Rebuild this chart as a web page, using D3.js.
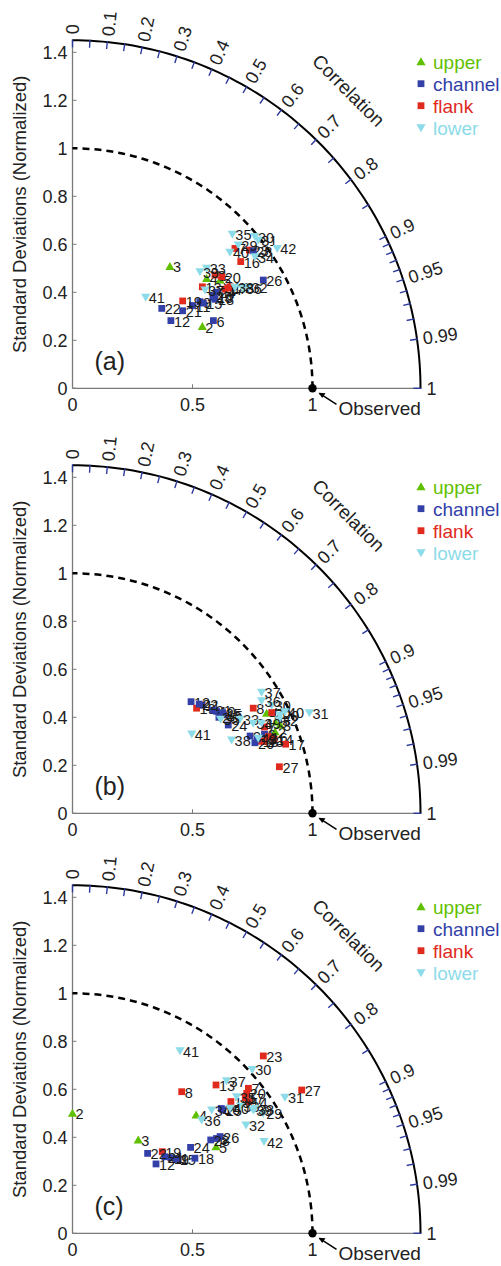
<!DOCTYPE html>
<html>
<head>
<meta charset="utf-8">
<script src="https://cdn.jsdelivr.net/npm/d3@7"></script>
<style>
  body { margin: 0; background: #fff; }
  svg { display: block; font-family: "Liberation Sans", Arial, sans-serif; }
</style>
</head>
<body>
<div id="chart"></div>
<script>
// station ids and their group
const ids = d3.range(2, 43)
const groups = [
  'upper', 'upper', 'upper', 'upper',            // 2-5
  'channel', 'flank', 'flank', 'channel',        // 6-9
  'channel', 'channel', 'channel', 'flank',      // 10-13
  'flank', 'channel', 'flank', 'flank',          // 14-17
  'channel', 'flank', 'flank', 'channel',        // 18-21
  'channel', 'flank', 'channel', 'channel',      // 22-25
  'channel', 'flank', 'channel',                 // 26-28
  'lower', 'lower', 'lower', 'lower', 'lower', 'lower', 'lower', // 29-35
  'lower', 'lower', 'lower', 'lower', 'lower', 'lower', 'lower'  // 36-42
]

const legendNames = ['upper', 'channel', 'flank', 'lower']
const legendColors = ['#5fc000', '#3240a8', '#e02a1e', '#8cdbe8']

// normalized std * cos / std * sin, one value per id (2..42)
const aX = [0.541, 0.406, 0.559, 0.615, 0.587, 0.677, 0.594, 0.531, 0.590, 0.500,
  0.410, 0.541, 0.656, 0.545, 0.701, 0.635, 0.594, 0.459, 0.622, 0.459,
  0.372, 0.737, 0.600, 0.585, 0.795, 0.648, 0.753, 0.691, 0.760, 0.774,
  0.733, 0.559, 0.760, 0.666, 0.709, 0.552, 0.677, 0.531, 0.656, 0.305, 0.853]
const aY = [0.257, 0.508, 0.458, 0.451, 0.282, 0.583, 0.472, 0.361, 0.380, 0.345,
  0.282, 0.423, 0.423, 0.355, 0.528, 0.413, 0.371, 0.364, 0.465, 0.323,
  0.333, 0.576, 0.400, 0.385, 0.451, 0.418, 0.573, 0.597, 0.632, 0.618,
  0.421, 0.500, 0.548, 0.642, 0.417, 0.410, 0.421, 0.486, 0.567, 0.379, 0.583]

const bX = [0.844, 0.865, 0.809, 0.850, 0.800, 0.800, 0.753, 0.740, 0.600, 0.540,
  0.494, 0.780, 0.840, 0.630, 0.816, 0.888, 0.770, 0.517, 0.830, 0.584,
  0.528, 0.800, 0.649, 0.626, 0.760, 0.862, 0.610, 0.865, 0.830, 0.987,
  0.860, 0.698, 0.753, 0.617, 0.788, 0.788, 0.663, 0.788, 0.885, 0.497, 0.774]
const bY = [0.340, 0.368, 0.417, 0.380, 0.330, 0.360, 0.438, 0.322, 0.425, 0.450,
  0.465, 0.300, 0.310, 0.410, 0.319, 0.288, 0.310, 0.438, 0.420, 0.430,
  0.455, 0.300, 0.368, 0.419, 0.294, 0.194, 0.400, 0.410, 0.450, 0.419,
  0.390, 0.392, 0.375, 0.392, 0.469, 0.504, 0.305, 0.375, 0.423, 0.330, 0.313]

const cX = [0.000, 0.274, 0.515, 0.598, 0.600, 0.733, 0.455, 0.440, 0.620, 0.410,
  0.348, 0.598, 0.733, 0.434, 0.660, 0.720, 0.510, 0.374, 0.726, 0.385,
  0.313, 0.795, 0.492, 0.626, 0.615, 0.955, 0.576, 0.795, 0.749, 0.885,
  0.723, 0.700, 0.580, 0.684, 0.538, 0.642, 0.760, 0.753, 0.656, 0.448, 0.798]
const cY = [0.500, 0.389, 0.493, 0.361, 0.395, 0.604, 0.590, 0.310, 0.520, 0.315,
  0.289, 0.618, 0.549, 0.308, 0.549, 0.565, 0.313, 0.340, 0.583, 0.319,
  0.333, 0.739, 0.358, 0.514, 0.403, 0.597, 0.389, 0.500, 0.683, 0.567,
  0.451, 0.530, 0.514, 0.569, 0.472, 0.636, 0.520, 0.514, 0.521, 0.761, 0.382]

const stdTicks = [0, 0.2, 0.4, 0.6, 0.8, 1, 1.2, 1.4]
const xTicks = [0, 0.5, 1]
const corrLabels = [0, 0.1, 0.2, 0.3, 0.4, 0.5, 0.6, 0.7, 0.8, 0.9, 0.95, 0.99, 1]
const corrTicks = d3.range(0, 0.901, 0.05).concat(d3.range(0.91, 0.995, 0.01)).concat([1])

const panels = [
  { letter: '(a)', oy: 388.3, xs: aX, ys: aY },
  { letter: '(b)', oy: 813.3, xs: bX, ys: bY },
  { letter: '(c)', oy: 1233.3, xs: cX, ys: cY }
]

const width = 501
const height = 1266
const ox = 72.5
const rMax = 1.45

const color = d3.scaleOrdinal().domain(legendNames).range(legendColors)

const svg = d3.select('#chart').append('svg')
  .attr('width', width)
  .attr('height', height)

panels.forEach(p => drawPanel(p))

function drawPanel(p) {
  let x = d3.scaleLinear().domain([0, rMax]).range([ox, ox + 348])
  let y = d3.scaleLinear().domain([0, rMax]).range([p.oy, p.oy - 348])
  let r = d3.scaleLinear().domain([0, rMax]).range([0, 348])
  let g = svg.append('g')

  // axes
  g.append('line')
    .attr('x1', x(0)).attr('y1', y(0)).attr('x2', x(rMax)).attr('y2', y(0))
    .attr('stroke', '#7a7a7a').attr('stroke-width', 1.3)
  g.append('line')
    .attr('x1', x(0)).attr('y1', y(0)).attr('x2', x(0)).attr('y2', y(rMax))
    .attr('stroke', '#7a7a7a').attr('stroke-width', 1.3)

  g.selectAll('.ytick').data(stdTicks).enter().append('line')
    .attr('x1', x(0)).attr('x2', x(0) + 4)
    .attr('y1', d => y(d)).attr('y2', d => y(d))
    .attr('stroke', '#7a7a7a')
  g.selectAll('.xtick').data(xTicks).enter().append('line')
    .attr('x1', d => x(d)).attr('x2', d => x(d))
    .attr('y1', y(0)).attr('y2', y(0) - 4)
    .attr('stroke', '#7a7a7a')

  g.selectAll('.ylab').data(stdTicks).enter().append('text')
    .attr('x', x(0) - 5)
    .attr('y', d => y(d))
    .attr('dy', '0.35em')
    .attr('text-anchor', 'end')
    .attr('font-size', 18)
    .attr('fill', '#222')
    .text(d => d3.format('')(d))

  g.selectAll('.xlab').data(xTicks).enter().append('text')
    .attr('x', d => x(d))
    .attr('y', y(0) + 23)
    .attr('text-anchor', 'middle')
    .attr('font-size', 18)
    .attr('fill', '#222')
    .text(d => d3.format('')(d))

  g.append('text')
    .attr('transform', `translate(${ox - 53},${y(rMax / 2)}) rotate(-90)`)
    .attr('text-anchor', 'middle')
    .attr('dy', '0.35em')
    .attr('font-size', 18.5)
    .attr('fill', '#222')
    .text('Standard Deviations (Normalized)')

  // outer arc and reference arc
  let arcLine = d3.line()
    .x(d => x(d[0] * Math.cos(d[1])))
    .y(d => y(d[0] * Math.sin(d[1])))
  let angles = d3.range(0, 91).map(d => d * Math.PI / 180)

  g.append('path')
    .attr('d', arcLine(angles.map(a => [rMax, a])))
    .attr('fill', 'none')
    .attr('stroke', '#000')
    .attr('stroke-width', 2)

  g.append('path')
    .attr('d', arcLine(angles.map(a => [1, a])))
    .attr('fill', 'none')
    .attr('stroke', '#000')
    .attr('stroke-width', 2.5)
    .attr('stroke-dasharray', '7,5')

  // correlation ticks
  g.selectAll('.ctick').data(corrTicks).enter().append('line')
    .attr('x1', d => x(rMax * d) - 7 * d)
    .attr('y1', d => y(rMax * Math.sqrt(1 - d * d)) + 7 * Math.sqrt(1 - d * d))
    .attr('x2', d => x(rMax * d) + 1 * d)
    .attr('y2', d => y(rMax * Math.sqrt(1 - d * d)) - 1 * Math.sqrt(1 - d * d))
    .attr('stroke', '#2c3a9c')
    .attr('stroke-width', 1.4)

  g.selectAll('.clab').data(corrLabels).enter().append('text')
    .attr('transform', d => {
      let a = Math.acos(d)
      let px = ox + (r(rMax) + 6) * Math.cos(a)
      let py = p.oy - (r(rMax) + 6) * Math.sin(a)
      return `translate(${px},${py}) rotate(${-a * 180 / Math.PI})`
    })
    .attr('dy', '0.35em')
    .attr('font-size', 18)
    .attr('fill', '#222')
    .text(d => d3.format('')(d))

  g.append('text')
    .attr('transform', `translate(${ox + 276},${p.oy - 298}) rotate(45)`)
    .attr('text-anchor', 'middle')
    .attr('dy', '0.35em')
    .attr('font-size', 19)
    .attr('fill', '#222')
    .text('Correlation')

  // observed reference
  g.append('circle')
    .attr('cx', x(1)).attr('cy', y(0)).attr('r', 4.2)
    .attr('fill', '#000')
  g.append('line')
    .attr('x1', x(1) + 24).attr('y1', y(0) + 16)
    .attr('x2', x(1) + 7).attr('y2', y(0) + 5)
    .attr('stroke', '#000').attr('stroke-width', 1.5)
  g.append('path')
    .attr('d', `M${x(1) + 6},${y(0) + 4.5} l7,0.5 l-3.3,4.6 z`)
    .attr('fill', '#000')
  g.append('text')
    .attr('x', x(1) + 26)
    .attr('y', y(0) + 27)
    .attr('font-size', 19)
    .attr('fill', '#222')
    .text('Observed')

  g.append('text')
    .attr('x', ox + 22)
    .attr('y', p.oy - 18)
    .attr('font-size', 25)
    .attr('fill', '#222')
    .text(p.letter)

  // stations
  let pts = ids.map((id, i) => ({ id: id, group: groups[i], x: p.xs[i], y: p.ys[i] }))
  let st = g.selectAll('.st').data(pts).enter().append('g')
    .attr('transform', d => `translate(${x(d.x)},${y(d.y)})`)
  st.append('path')
    .attr('d', d => markerPath(d.group))
    .attr('fill', d => color(d.group))
  st.append('text')
    .attr('x', 3)
    .attr('y', 1)
    .attr('dy', '0.35em')
    .attr('font-size', 14.5)
    .attr('fill', '#1a1a1a')
    .text(d => d.id)

  // legend
  let lg = g.selectAll('.lg').data(legendNames).enter().append('g')
    .attr('transform', (d, i) => `translate(421,${p.oy - 326.6 + i * 22})`)
  lg.append('path')
    .attr('d', d => markerPath(d))
    .attr('fill', d => color(d))
  lg.append('text')
    .attr('x', 12)
    .attr('y', 1)
    .attr('dy', '0.35em')
    .attr('font-size', 19)
    .attr('fill', d => color(d))
    .text(d => d)
}

function markerPath(group) {
  if (group == 'upper') return 'M0,-4.5 L4.6,3.5 L-4.6,3.5 Z'
  if (group == 'lower') return 'M0,4.5 L4.6,-3.5 L-4.6,-3.5 Z'
  return 'M-3.4,-3.4 h6.8 v6.8 h-6.8 Z'
}
</script>
</body>
</html>
